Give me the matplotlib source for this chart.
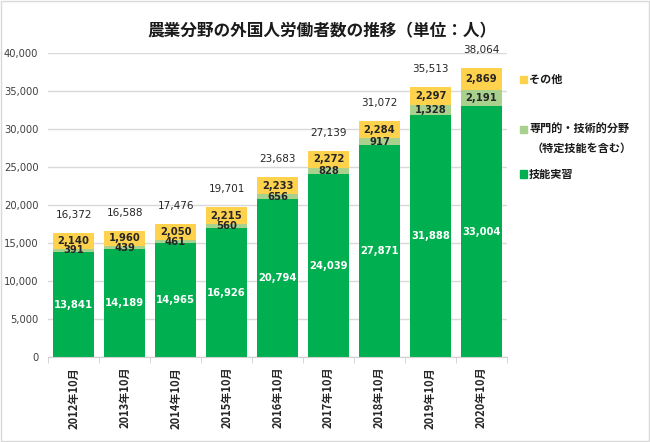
import numpy as np
import matplotlib.pyplot as plt
from matplotlib.patches import Rectangle

plt.rcParams['font.family'] = ['Noto Sans CJK JP', 'DejaVu Sans']

# Data
years = ['2012年10月', '2013年10月', '2014年10月', '2015年10月', '2016年10月',
         '2017年10月', '2018年10月', '2019年10月', '2020年10月']
ginou = [13841, 14189, 14965, 16926, 20794, 24039, 27871, 31888, 33004]
senmon = [391, 439, 461, 560, 656, 828, 917, 1328, 2191]
sonota = [2140, 1960, 2050, 2215, 2233, 2272, 2284, 2297, 2869]
totals = [16372, 16588, 17476, 19701, 23683, 27139, 31072, 35513, 38064]

c_green = '#00B050'
c_light = '#A9D18E'
c_yellow = '#FFD24D'
num_font = ['DejaVu Sans']

fig = plt.figure(figsize=(6.5, 4.42), dpi=100)
ax = fig.add_axes([0.074, 0.192, 0.706, 0.688])

x = np.arange(len(years))
w = 0.82
ginou = np.array(ginou)
senmon = np.array(senmon)
sonota = np.array(sonota)

ax.bar(x, ginou, w, color=c_green, zorder=2)
ax.bar(x, senmon, w, bottom=ginou, color=c_light, zorder=2)
ax.bar(x, sonota, w, bottom=ginou + senmon, color=c_yellow, zorder=2)

for i in range(len(x)):
    ax.text(x[i], ginou[i] / 2, f'{ginou[i]:,}', ha='center', va='center',
            color='white', fontsize=7.2, fontweight='bold', family=num_font)
    ax.text(x[i], ginou[i] + senmon[i] / 2, f'{senmon[i]:,}', ha='center', va='center',
            color='#262626', fontsize=7.2, fontweight='bold', family=num_font)
    ax.text(x[i], ginou[i] + senmon[i] + sonota[i] / 2, f'{sonota[i]:,}', ha='center',
            va='center', color='#262626', fontsize=7.2, fontweight='bold', family=num_font)
    ax.annotate(f'{totals[i]:,}', (x[i], totals[i]), xytext=(0, 13),
                textcoords='offset points', ha='center', va='center',
                color='#262626', fontsize=7.5, family=num_font, annotation_clip=False)

ax.set_xlim(-0.5, len(x) - 0.5)
ax.set_ylim(0, 40000)
ax.set_yticks(np.arange(0, 40001, 5000))
ax.set_yticklabels([f'{v:,}' for v in range(0, 40001, 5000)], family=num_font,
                   fontsize=7.2, color='#404040')
ax.set_xticks(x)
ax.set_xticklabels(years, rotation=90, fontsize=8, fontweight='bold', color='#262626')
ax.set_xticks(np.arange(-0.5, len(x)), minor=True)
ax.tick_params(axis='x', which='major', length=0, pad=7)
ax.tick_params(axis='x', which='minor', length=4, color='#D0D0D0')
ax.tick_params(axis='y', length=0, pad=7)
ax.grid(axis='y', color='#D9D9D9', linewidth=1, zorder=0)
for s in ['top', 'right', 'left']:
    ax.spines[s].set_visible(False)
ax.spines['bottom'].set_color('#D0D0D0')

fig.text(0.495, 1 - 31 / 442, '農業分野の外国人労働者数の推移（単位：人）',
         ha='center', va='center', fontsize=12, fontweight='bold', color='#1a1a1a')

# Legend (manual)
leg_items = [('その他', c_yellow, 79), ('専門的・技術的分野', c_light, 129),
             ('技能実習', c_green, 174)]
for name, col, ypx in leg_items:
    fig.patches.append(Rectangle((520 / 650, 1 - (ypx + 3.5) / 442), 7 / 650, 7 / 442,
                                 transform=fig.transFigure, color=col))
    fig.text(529 / 650, 1 - ypx / 442, name, ha='left', va='center', fontsize=8,
             fontweight='bold', color='#1a1a1a')
fig.text(532 / 650, 1 - 148 / 442, '（特定技能を含む）', ha='left', va='center', fontsize=8,
         fontweight='bold', color='#1a1a1a')

# Border
fig.patches.append(Rectangle((0.002, 0.002), 0.996, 0.995, transform=fig.transFigure,
                             fill=False, edgecolor='#D9D9D9', linewidth=1))

fig.savefig('out.png', dpi=100)
